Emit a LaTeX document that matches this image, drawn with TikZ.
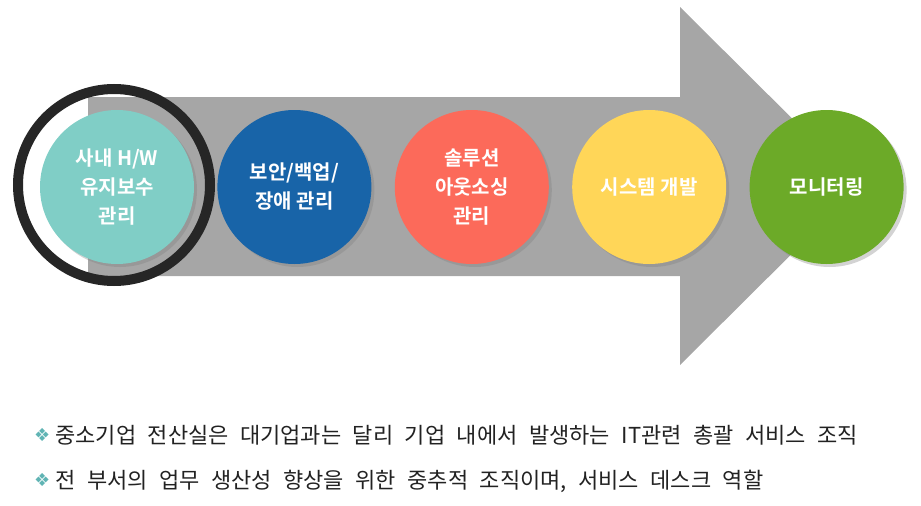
\documentclass[tikz,border=0pt]{standalone}
\usepackage{fontspec}
\usepackage{tikz}
\usetikzlibrary{positioning, shadows}

\newfontfamily\krfont{Noto Sans CJK KR}
\newfontfamily\krbold{Noto Sans CJK KR Bold}
\newfontfamily\symfont{DejaVu Sans}
\newcommand{\bulletfont}{\krfont\fontsize{22}{26}\selectfont\spaceskip 11.5pt\relax}
\newcommand{\bulletmark}{\raisebox{1.5pt}{\color{bulletc}\symfont\fontsize{18}{18}\selectfont ❖}\hspace{5pt}}

\definecolor{arrowgray}{RGB}{166,166,166}
\definecolor{ringdark}{RGB}{38,38,38}
\definecolor{tealc}{RGB}{128,206,198}
\definecolor{bluec}{RGB}{24,100,168}
\definecolor{redc}{RGB}{252,106,90}
\definecolor{yellowc}{RGB}{255,214,88}
\definecolor{greenc}{RGB}{108,170,40}
\definecolor{bulletc}{RGB}{96,180,180}
\definecolor{textc}{RGB}{34,34,34}

\begin{document}
\begin{tikzpicture}[
    x=1pt, y=-1pt,
    node distance=23pt,
    stage/.style={circle, minimum size=154pt, inner sep=0pt, align=center, text=white,
        font=\krbold\fontsize{20}{29}\selectfont,
        drop shadow={shadow xshift=3pt, shadow yshift=-3pt, opacity=0.35}},
    ringnode/.style={circle, draw=ringdark, line width=10pt, minimum size=192pt, inner sep=0pt},
    bullet/.style={anchor=west, inner sep=0pt, text=textc, font=\bulletfont}
]
\useasboundingbox (0,0) rectangle (921,506);

% big arrow behind the stages
\fill[arrowgray] (88,97) -- (680,97) -- (680,7) -- (860,186) -- (680,365) -- (680,276) -- (88,276) -- cycle;

\node (ring) [ringnode] at (114,185) {};

\node (hw) [stage, fill=tealc] at (117,187) {사내 H/W\\유지보수\\관리};
\node (backup) [stage, fill=bluec, right=of hw] {보안/백업/\\장애 관리};
\node (outsrc) [stage, fill=redc, right=of backup] {솔루션\\아웃소싱\\관리};
\node (dev) [stage, fill=yellowc, right=of outsrc] {시스템 개발};
\node (monitor) [stage, fill=greenc, right=of dev] {모니터링};

\node (line1) [bullet] at (34,435) {\bulletmark 중소기업 전산실은 대기업과는 달리 기업 내에서 발생하는 IT관련 총괄 서비스 조직};
\node (line2) [bullet] at (34,481) {\bulletmark 전 부서의 업무 생산성 향상을 위한 중추적 조직이며, 서비스 데스크 역할};

\end{tikzpicture}
\end{document}
